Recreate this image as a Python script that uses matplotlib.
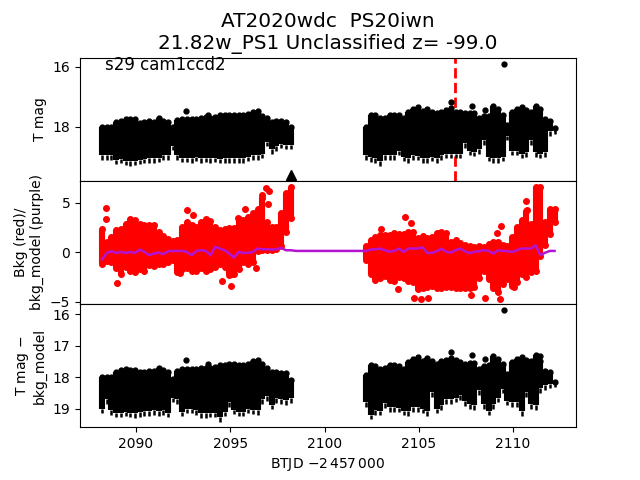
import numpy as np
import matplotlib
matplotlib.use("Agg")
import matplotlib.pyplot as plt

# envelope of the dense points, sampled every 0.25 d
t_left = np.arange(2088.25, 2098.3, 0.25) - 0.05
t_right = np.arange(2102.25, 2112.3, 0.25) - 0.05

tmag_top_l = [18.0, 18.0, 18.0, 17.85, 17.8, 17.75, 17.75, 17.75, 17.88, 17.85, 17.82, 17.85, 17.72, 17.8,
              17.85, 18.0, 17.78, 17.75, 17.75, 17.75, 17.75, 17.72, 17.68, 17.72, 17.68, 17.6, 17.62, 17.6,
              17.62, 17.6, 17.6, 17.58, 17.5, 17.47, 17.65, 17.72, 17.85, 17.82, 17.82, 17.85, 18.0]
tmag_bot_l = [19.1, 19.1, 19.1, 19.25, 19.22, 19.28, 19.3, 19.28, 19.25, 19.22, 19.2, 19.2, 19.18, 19.1,
              19.1, 18.78, 19.1, 19.18, 19.18, 19.2, 19.15, 19.2, 19.18, 19.2, 19.18, 19.22, 19.2, 19.2,
              19.2, 19.2, 19.2, 19.15, 19.1, 19.1, 19.05, 18.65, 18.9, 18.8, 18.72, 18.75, 18.75]
tmag_top_r = [18.0, 17.62, 17.62, 17.7, 17.72, 17.6, 17.6, 17.62, 17.7, 17.5, 17.42, 17.35, 17.48, 17.4,
              17.5, 17.55, 17.5, 17.45, 17.38, 17.5, 17.52, 17.55, 17.55, 17.55, 17.7, 17.65, 17.65, 17.32,
              17.42, 17.62, 17.93, 17.5, 17.42, 17.35, 17.45, 17.5, 17.3, 17.42, 17.75, 17.82, 18.05]
tmag_bot_r = [19.1, 19.17, 19.2, 19.3, 19.1, 19.1, 19.1, 18.95, 19.15, 19.2, 19.1, 19.12, 19.2, 19.2,
              19.15, 19.2, 19.1, 19.05, 19.05, 19.05, 19.05, 18.7, 18.95, 18.98, 18.9, 18.6, 19.15, 19.2,
              19.2, 19.15, 18.45, 18.95, 18.95, 19.05, 19.0, 18.6, 19.0, 19.05, 19.0, 18.3, 18.25]
tmag_out_t = [2092.67, 2093.83, 2106.71, 2107.82, 2108.51, 2109.52]
tmag_out_y = [17.47, 17.6, 17.18, 17.3, 17.43, 15.91]

bkg_top_l = [2.3, 1.0, 1.5, 2.2, 2.3, 2.8, 3.3, 3.2, 2.8, 2.7, 2.7, 2.7, 2.0, 1.6, 1.3, 1.1, 1.2, 2.5, 3.0, 2.7,
             2.5, 3.0, 3.3, 3.1, 2.5, 2.2, 2.3, 2.4, 2.4, 3.3, 3.2, 3.6, 4.0, 4.4, 5.5, 3.0, 2.5, 2.5, 4.0, 6.0, 6.6]
bkg_bot_l = [-1.2, -0.9, -1.0, -1.6, -2.2, -1.5, -1.9, -2.0, -1.7, -1.9, -1.3, -1.4, -1.2, -1.2, -1.0, -0.8,
             -2.0, -1.7, -1.6, -1.9, -1.9, -1.6, -1.9, -1.7, -1.5, -1.2, -1.5, -2.3, -2.2, -1.7, -1.0, -1.2,
             -1.0, 0.1, 0.2, 0.2, 0.2, 0.3, 0.6, 2.0, 3.5]
bkg_top_r = [0.6, 1.2, 1.5, 1.7, 1.7, 1.7, 1.9, 1.8, 1.8, 2.0, 2.0, 1.4, 1.6, 1.4, 1.5, 1.9, 2.0, 1.9, 1.0, 1.2,
             0.9, 0.7, 0.6, 0.55, 0.6, 0.5, 0.8, 1.0, 1.0, 0.7, 0.6, 1.5, 2.5, 3.2, 4.2, 2.8, 6.6, 6.6, 3.0, 4.4, 4.4]
bkg_bot_r = [-0.8, -2.2, -2.8, -2.6, -2.4, -2.8, -2.9, -2.5, -2.6, -2.9, -3.0, -3.7, -3.6, -3.5, -3.4, -3.6,
             -3.6, -3.5, -3.5, -3.6, -3.6, -3.6, -3.6, -3.5, -2.6, -1.9, -2.7, -3.6, -4.0, -3.2, -2.7, -3.4,
             -3.0, -2.2, -2.5, -2.0, -1.9, -0.4, 0.7, 1.8, 3.0]
bkg_out_t = [2088.43, 2088.43, 2092.72, 2093.04, 2095.8, 2095.42, 2089.01, 2094.58, 2095.05, 2095.1, 2096.38,
             2096.89, 2097.07, 2096.66, 2097.0, 2092.33, 2104.27, 2104.59, 2102.97, 2109.38, 2109.15, 2103.9,
             2104.75, 2105.12, 2105.49, 2107.77, 2108.51, 2109.3, 2110.05, 2110.69, 2110.74]
bkg_out_y = [4.5, 3.3, 4.3, 3.8, 4.4, 3.4, -3.07, -2.87, -3.37, -2.2, -1.55, 6.43, 6.16, 5.75, 4.9, -2.06,
             3.57, 2.9, 2.3, 2.6, 1.9, -3.67, -4.58, -4.68, -4.58, -4.28, -4.58, -4.68, -3.5, 5.15, 4.3]

model_l = [-0.71, -0.07, 0.1, -0.07, 0.03, -0.07, 0.03, -0.07, 0.27, 0.03, -0.3, -0.14, -0.03, -0.2, 0.1, 0.13,
           0.13, 0.13, 0.03, -0.3, 0.13, 0.2, 0.13, -0.3, 0.54, 0.37, 0.2, -0.14, -0.54, 0.03, -0.07, -0.07, 0.03,
           0.37, 0.3, 0.3, 0.27, 0.3, 0.44, 0.2, 0.2]
model_gap_t = [2098.5, 2102.0]
model_gap = [0.13, 0.13]
model_r = [0.13, 0.27, 0.3, 0.37, 0.2, 0.05, 0.13, 0.37, 0.03, 0.37, 0.37, 0.37, 0.5, -0.07, -0.07, 0.1, 0.37,
           0.03, -0.03, 0.2, 0.37, 0.1, -0.1, 0.05, 0.1, 0.2, 0.13, -0.14, 0.2, 0.13, 0.1, 0.03, 0.2, 0.37, 0.37,
           0.37, 0.7, -0.3, -0.05, 0.13, 0.13]

sub_top_l = [18.0, 18.0, 18.0, 17.85, 17.78, 17.75, 17.76, 17.76, 17.85, 17.85, 17.8, 17.82, 17.72, 17.78, 17.85,
             18.05, 17.8, 17.74, 17.75, 17.75, 17.74, 17.72, 17.7, 17.7, 17.68, 17.62, 17.62, 17.6, 17.6, 17.62,
             17.62, 17.58, 17.5, 17.46, 17.6, 17.7, 17.85, 17.85, 17.88, 17.88, 18.1]
sub_bot_l = [19.15, 18.85, 19.2, 19.28, 19.28, 19.25, 19.28, 19.3, 19.27, 19.22, 19.22, 19.2, 19.22, 19.2, 19.28,
             18.8, 18.85, 19.25, 19.15, 19.15, 19.2, 19.3, 19.3, 19.28, 19.28, 19.42, 19.25, 18.95, 19.18, 19.25,
             19.25, 19.15, 19.18, 19.2, 18.85, 18.75, 19.02, 18.82, 18.85, 18.88, 18.82]
sub_top_r = [17.94, 17.62, 17.65, 17.73, 17.7, 17.62, 17.62, 17.65, 17.73, 17.51, 17.42, 17.35, 17.5, 17.38, 17.5,
             17.57, 17.5, 17.45, 17.38, 17.46, 17.52, 17.57, 17.54, 17.55, 17.73, 17.65, 17.62, 17.33, 17.42, 17.6,
             17.9, 17.51, 17.42, 17.35, 17.45, 17.49, 17.3, 17.5, 17.8, 17.85, 18.15]
sub_bot_r = [18.94, 19.34, 19.2, 19.21, 18.98, 19.1, 19.1, 19.12, 19.21, 19.23, 19.1, 19.1, 19.15, 19.23, 18.62,
             19.15, 19.05, 18.84, 18.84, 18.8, 18.73, 18.92, 19.0, 19.05, 18.57, 19.0, 19.21, 19.0, 18.8, 18.52,
             18.9, 18.94, 18.94, 19.23, 18.62, 19.0, 19.05, 18.5, 18.4, 18.36, 18.3]
sub_out_t = [2092.67, 2093.83, 2106.71, 2107.82, 2108.51, 2109.52, 2111.41]
sub_out_y = [17.47, 17.59, 17.19, 17.3, 17.43, 15.88, 17.33]

tr_t = [2098.2]
tr_y = [19.62]
tde_t = 2106.93


def mags(ax, t, top, bot):
    # thick body plus thin error bar tail on the faint side
    body = np.array(bot) - 0.15
    ax.vlines(t, top, body, color='k', lw=4.4, zorder=3)
    ax.vlines(t, body, bot, color='k', lw=1.8, zorder=3)
    ax.plot(t, top, 'o', color='k', ms=3.5, zorder=3)


def bkg(ax, t, top, bot):
    ax.vlines(t, top, bot, color='r', lw=4.4, zorder=3)
    ax.plot(t, top, 'o', color='r', ms=4, zorder=3)
    ax.plot(t, bot, 'o', color='r', ms=4, zorder=3)


fig, (ax1, ax2, ax3) = plt.subplots(3, 1, sharex=True)
fig.subplots_adjust(hspace=0)

mags(ax1, t_left, tmag_top_l, tmag_bot_l)
mags(ax1, t_right, tmag_top_r, tmag_bot_r)
ax1.plot(tmag_out_t, tmag_out_y, 'o', color='k', ms=3.5)
ax1.plot(tr_t, tr_y, '^', color='k', ms=7)
ax1.axvline(tde_t, color='r', ls='--', lw=2, zorder=1)
ax1.set_ylim(19.8, 15.7)
ax1.set_yticks([16, 18])
ax1.set_ylabel("T mag")
ax1.text(0.05, 0.9, "s29 cam1ccd2", transform=ax1.transAxes, fontsize=12)

bkg(ax2, t_left, bkg_top_l, bkg_bot_l)
bkg(ax2, t_right, bkg_top_r, bkg_bot_r)
ax2.plot(bkg_out_t, bkg_out_y, 'o', color='r', ms=4)
ax2.plot(np.concatenate([t_left, model_gap_t, t_right]), model_l + model_gap + model_r,
         color='#b414d2', lw=1.8, zorder=4)
ax2.set_ylim(-5.22, 7.2)
ax2.set_yticks([-5, 0, 5])
ax2.set_ylabel("Bkg (red)/\nbkg_model (purple)")

mags(ax3, t_left, sub_top_l, sub_bot_l)
mags(ax3, t_right, sub_top_r, sub_bot_r)
ax3.plot(sub_out_t, sub_out_y, 'o', color='k', ms=3.5)
ax3.set_ylim(19.59, 15.68)
ax3.set_yticks([16, 17, 18, 19])
ax3.set_ylabel("T mag $-$\nbkg_model")
ax3.set_xlim(2087.03, 2113.34)
ax3.set_xticks([2090, 2095, 2100, 2105, 2110])
ax3.set_xlabel(r"BTJD $-2\,457\,000$")

ax1.tick_params(axis='x', bottom=False)
ax2.tick_params(axis='x', bottom=False)
ax1.set_title("AT2020wdc  PS20iwn\n21.82w_PS1 Unclassified z= -99.0", fontsize=14.4)
fig.savefig("out.png", dpi=100)
